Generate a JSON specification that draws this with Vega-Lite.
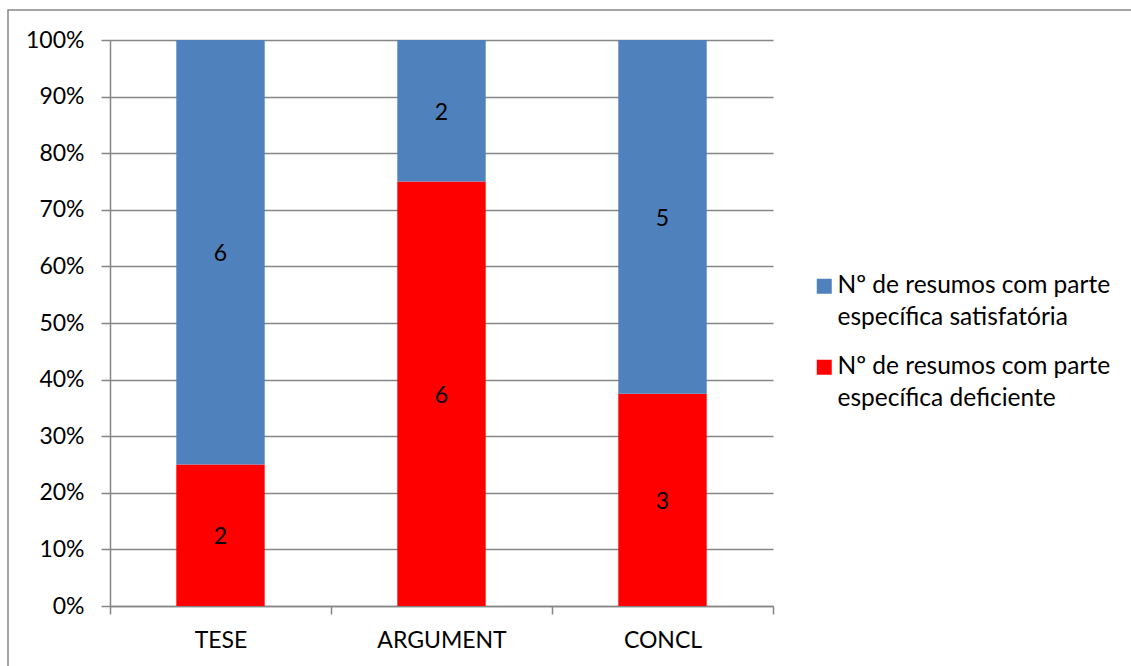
{
  "$schema": "https://vega.github.io/schema/vega-lite/v6.json",
  "autosize": {"type": "none"},
  "padding": {"left": 8, "top": 10, "right": -3, "bottom": -3},
  "width": 1126,
  "height": 659,
  "background": "white",
  "config": {
    "view": {"stroke": "#888888", "strokeWidth": 1.5, "fill": "white"},
    "font": "Lato",
    "text": {"font": "Lato"}
  },
  "data": {
    "values": [
      {"parte": "TESE", "avaliacao": "Nº de resumos com parte específica deficiente", "ord": 1, "n": 2},
      {"parte": "TESE", "avaliacao": "Nº de resumos com parte específica satisfatória", "ord": 2, "n": 6},
      {"parte": "ARGUMENT", "avaliacao": "Nº de resumos com parte específica deficiente", "ord": 1, "n": 6},
      {"parte": "ARGUMENT", "avaliacao": "Nº de resumos com parte específica satisfatória", "ord": 2, "n": 2},
      {"parte": "CONCL", "avaliacao": "Nº de resumos com parte específica deficiente", "ord": 1, "n": 3},
      {"parte": "CONCL", "avaliacao": "Nº de resumos com parte específica satisfatória", "ord": 2, "n": 5}
    ]
  },
  "transform": [
    {
      "stack": "n",
      "groupby": ["parte"],
      "sort": [{"field": "ord", "order": "ascending"}],
      "offset": "normalize",
      "as": ["y0", "y1"]
    },
    {"calculate": "(datum.y0 + datum.y1) / 2", "as": "ymeio"}
  ],
  "encoding": {
    "x": {
      "field": "parte",
      "type": "nominal",
      "sort": ["TESE", "ARGUMENT", "CONCL"],
      "scale": {"range": [102, 765], "paddingInner": 0, "paddingOuter": 0},
      "axis": {
        "title": null,
        "offset": -63,
        "labelAngle": 0,
        "labelFont": "Lato",
        "labelFontSize": 23,
        "labelColor": "#000000",
        "labelPadding": 15,
        "tickBand": "extent",
        "tickSize": 8,
        "tickColor": "#868686",
        "tickWidth": 1.5,
        "domainColor": "#868686",
        "domainWidth": 1.5,
        "grid": false
      }
    }
  },
  "layer": [
    {
      "mark": {"type": "bar", "width": {"band": 0.4}},
      "encoding": {
        "y": {
          "field": "y0",
          "type": "quantitative",
          "scale": {"domain": [0, 1], "range": [596, 30], "nice": false, "zero": true},
          "axis": {
            "title": null,
            "offset": -102,
            "values": [0, 0.1, 0.2, 0.3, 0.4, 0.5, 0.6, 0.7, 0.8, 0.9, 1],
            "format": ".0%",
            "labelFont": "Lato",
            "labelFontSize": 23,
            "labelColor": "#000000",
            "labelPadding": 17,
            "tickSize": 9,
            "tickColor": "#868686",
            "tickWidth": 1.5,
            "domainColor": "#868686",
            "domainWidth": 1.5,
            "grid": true,
            "gridColor": "#868686",
            "gridWidth": 1.5
          }
        },
        "y2": {"field": "y1"},
        "color": {
          "field": "avaliacao",
          "type": "nominal",
          "scale": {
            "domain": [
              "Nº de resumos com parte específica satisfatória",
              "Nº de resumos com parte específica deficiente"
            ],
            "range": ["#4F81BD", "#FF0000"]
          },
          "legend": {
            "title": null,
            "orient": "none",
            "legendX": 804,
            "legendY": 264,
            "padding": 0,
            "symbolType": "square",
            "symbolSize": 225,
            "symbolStrokeWidth": 0,
            "labelFont": "Lato",
            "labelFontSize": 24.5,
            "labelColor": "#000000",
            "labelOffset": 1,
            "labelLimit": 400,
            "rowPadding": 24,
            "labelExpr": "split(replace(datum.label, ' parte ', ' parte|'), '|')",
            "encode": {"labels": {"update": {"lineHeight": {"value": 32}}}}
          }
        }
      }
    },
    {
      "mark": {"type": "text", "fontSize": 23, "color": "#000000", "baseline": "middle", "align": "center", "dy": 2},
      "encoding": {
        "y": {"field": "ymeio", "type": "quantitative"},
        "text": {"field": "n", "type": "quantitative"}
      }
    }
  ]
}
